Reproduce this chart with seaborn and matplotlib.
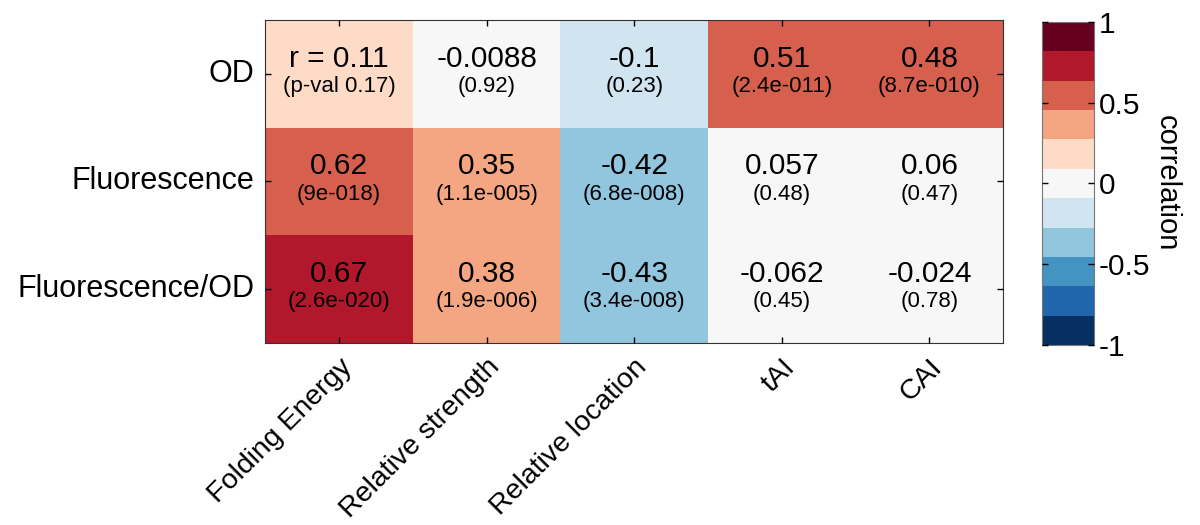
import numpy as np
import pandas as pd
import matplotlib
matplotlib.use("Agg")
import matplotlib.pyplot as plt
from matplotlib.colors import ListedColormap, BoundaryNorm
import seaborn as sns

rows = ["OD", "Fluorescence", "Fluorescence/OD"]
cols = ["Folding Energy", "Relative strength", "Relative location", "tAI", "CAI"]
r_vals = [
    [0.11, -0.0088, -0.1, 0.51, 0.48],
    [0.62, 0.35, -0.42, 0.057, 0.06],
    [0.67, 0.38, -0.43, -0.062, -0.024],
]
r_text = [
    ["r = 0.11", "-0.0088", "-0.1", "0.51", "0.48"],
    ["0.62", "0.35", "-0.42", "0.057", "0.06"],
    ["0.67", "0.38", "-0.43", "-0.062", "-0.024"],
]
p_text = [
    ["(p-val 0.17)", "(0.92)", "(0.23)", "(2.4e-011)", "(8.7e-010)"],
    ["(9e-018)", "(1.1e-005)", "(6.8e-008)", "(0.48)", "(0.47)"],
    ["(2.6e-020)", "(1.9e-006)", "(3.4e-008)", "(0.45)", "(0.78)"],
]
palette = ["#053061", "#2166ac", "#4393c3", "#92c5de", "#d1e5f0", "#f7f7f7",
           "#fddbc7", "#f4a582", "#d6604d", "#b2182b", "#67001f"]
cbar_ticks = [-1, -0.5, 0, 0.5, 1]
cbar_ticklabels = ["-1", "-0.5", "0", "0.5", "1"]

sns.set_theme(style="white")
plt.rcParams["font.family"] = ["Liberation Sans", "DejaVu Sans"]
plt.rcParams["text.color"] = "black"
plt.rcParams["xtick.color"] = "black"
plt.rcParams["ytick.color"] = "black"
plt.rcParams["axes.labelcolor"] = "black"
plt.rcParams["axes.axisbelow"] = False

df = pd.DataFrame(r_vals, index=rows, columns=cols)
cmap = ListedColormap(palette)
bounds = np.linspace(-1, 1, len(palette) + 1)
norm = BoundaryNorm(bounds, cmap.N)

fig = plt.figure(figsize=(12, 5.25), dpi=100)
ax = fig.add_axes([0.221, 0.347, 0.615, 0.615])
cax = fig.add_axes([0.868, 0.343, 0.044, 0.615])

sns.heatmap(df, ax=ax, cmap=cmap, norm=norm, vmin=-1, vmax=1, cbar=True,
            cbar_ax=cax, linewidths=0, square=False,
            cbar_kws={"ticks": cbar_ticks})
ax.set_axisbelow(False)
cax.set_axisbelow(False)

for i in range(len(rows)):
    for j in range(len(cols)):
        ax.text(j + 0.5, i + 0.36, r_text[i][j], ha="center", va="center",
                fontsize=21.5, color="black")
        ax.text(j + 0.5, i + 0.62, p_text[i][j], ha="center", va="center",
                fontsize=16, color="black")

ax.set_xlabel("")
ax.set_ylabel("")
ax.set_xticklabels(cols, rotation=45, ha="right", rotation_mode="anchor",
                   fontsize=20.5)
ax.set_yticklabels(rows, rotation=0, fontsize=22)
ax.tick_params(axis="both", which="major", direction="in", length=4, width=1,
               color="black", top=True, right=True, bottom=True, left=True,
               labeltop=False, labelright=False, pad=8)
for s in ax.spines.values():
    s.set_visible(True)
    s.set_color("#333333")
    s.set_linewidth(0.8)

cbar = ax.collections[0].colorbar
cbar.set_ticks(cbar_ticks)
cbar.set_ticklabels(cbar_ticklabels)
cbar.ax.minorticks_off()
cbar.ax.tick_params(labelsize=21.5, direction="in", length=4, width=1,
                    left=True, right=True, color="black", pad=3)
cbar.outline.set_visible(True)
cbar.outline.set_edgecolor("#777777")
cbar.outline.set_linewidth(0.8)
cbar.set_label("correlation", rotation=270, fontsize=21, labelpad=22)

fig.savefig("out.png", dpi=100)
